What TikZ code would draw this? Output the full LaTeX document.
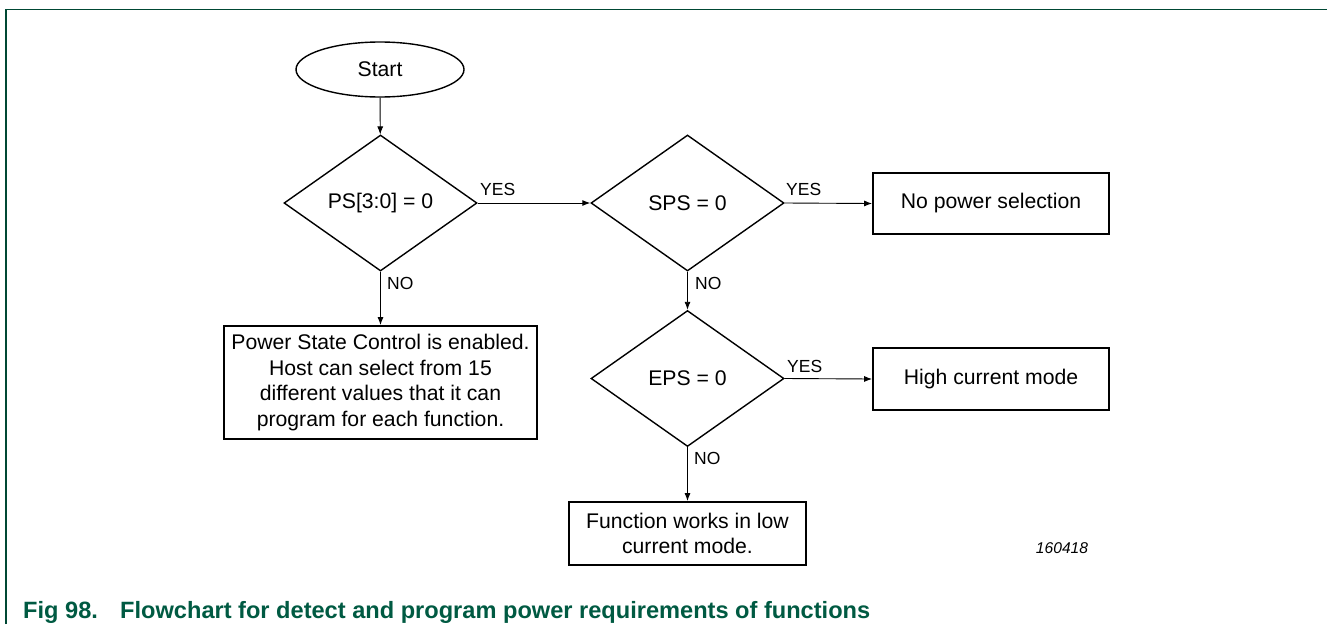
\documentclass[tikz,border=0pt]{standalone}
\usepackage{fontspec}
\setmainfont{Liberation Sans}
\usetikzlibrary{shapes.geometric,arrows.meta}
\definecolor{nxpgreen}{RGB}{0,90,66}
\definecolor{framegreen}{RGB}{0,72,52}
\begin{document}
\begin{tikzpicture}[x=1pt,y=-1pt,
  txt/.style={font=\fontsize{21.2}{25.5}\selectfont},
  term/.style={draw,ellipse,line width=1.4pt,inner sep=0pt,minimum width=168pt,minimum height=55pt,txt},
  decision/.style={draw,diamond,line width=1.4pt,inner sep=0pt,minimum width=193pt,minimum height=136pt,txt},
  procbox/.style={draw,rectangle,line width=1.8pt,inner sep=0pt,align=center,txt},
  lbl/.style={font=\fontsize{17.5}{20}\selectfont,inner sep=0pt,anchor=west},
  captxt/.style={font=\fontsize{23.6}{28}\selectfont\bfseries,text=nxpgreen,inner sep=0pt,anchor=base west},
  conn/.style={line width=0.9pt,-{Latex[length=8pt,width=6pt]}}]
\useasboundingbox (0,0) rectangle (1327,624);
% frame
\draw[framegreen,line width=1.6pt] (6,624) -- (6,9.3) -- (1327,9.3);
% nodes
\node[term] (start) at (380,69.5) {Start};
\node[decision] (d1) at (380.5,203) {PS[3:0] = 0};
\node[decision] (d2) at (687.5,203) {SPS = 0};
\node[decision] (d3) at (687.5,378.5) {EPS = 0};
\node[procbox,minimum width=236pt,minimum height=61pt] (nps) at (991,203.5) {No power selection};
\node[procbox,minimum width=236pt,minimum height=62pt] (hcm) at (991,379) {High current mode};
\node[procbox,minimum width=313pt,minimum height=113pt] (psc) at (380.5,382.5)
  {Power State Control is enabled.\\Host can select from 15\\different values that it can\\program for each function.};
\node[procbox,minimum width=237pt,minimum height=63pt] (lcm) at (687.5,533.5)
  {Function works in low\\current mode.};
% connectors
\draw[conn] (start) -- (d1);
\draw[conn] (d1.east) -- (d2.west);
\draw[conn] (d2.east) -- (nps.west);
\draw[conn] (d1.south) -- (psc.north);
\draw[conn] (d2.south) -- (d3.north);
\draw[conn] (d3.east) -- (hcm.west);
\draw[conn] (d3.south) -- (lcm.north);
% labels
\node[lbl] (y1) at (480,189) {YES};
\node[lbl] (y2) at (786,189) {YES};
\node[lbl] (y3) at (787,366) {YES};
\node[lbl] (n1) at (387,283) {NO};
\node[lbl] (n2) at (695,283) {NO};
\node[lbl] (n3) at (694,458) {NO};
\node[font=\fontsize{15.6}{18}\selectfont\itshape,inner sep=0pt] (id) at (1062,548) {160418};
% caption
\node[captxt] (figno) at (23,618) {Fig 98.};
\node[captxt] (figcap) at (120,618) {Flowchart for detect and program power requirements of functions};
\end{tikzpicture}
\end{document}
